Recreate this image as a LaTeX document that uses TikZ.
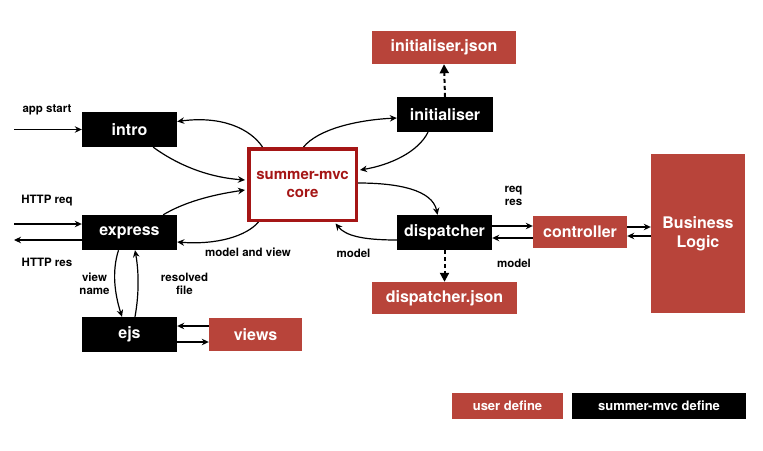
\documentclass[tikz,border=0pt]{standalone}
\usepackage{fontspec}
\setmainfont{TeX Gyre Heros}
\usetikzlibrary{arrows.meta,calc}
\definecolor{userred}{RGB}{184,68,58}
\definecolor{corered}{RGB}{165,22,22}
\begin{document}
\begin{tikzpicture}[x=1pt,y=-1pt,
  blk/.style={fill=black,text=white,inner sep=0pt,font=\fontsize{16}{18}\selectfont\bfseries},
  usr/.style={fill=userred,text=white,inner sep=0pt,font=\fontsize{16}{18}\selectfont\bfseries},
  lbl/.style={inner sep=0pt,font=\fontsize{11.5}{13}\selectfont\bfseries,align=center},
  arr/.style={line width=1.2pt,-{Stealth[length=7pt,width=6.5pt]}},
  dsh/.style={line width=2pt,dash pattern=on 4pt off 3pt,-{Triangle[length=9pt,width=9pt]}}]
\useasboundingbox[fill=white] (0,0) rectangle (763,450);

% nodes
\node[blk,minimum width=95pt,minimum height=35pt] (intro) at (129.5,129.5) {intro};
\node[blk,minimum width=95pt,minimum height=35pt] (express) at (129.5,232.5) {express};
\node[blk,minimum width=95pt,minimum height=35pt] (ejs) at (129.5,334.5) {ejs};
\node[usr,minimum width=93pt,minimum height=33pt] (views) at (255.5,334.5) {views};
\node[draw=corered,line width=3.5pt,fill=white,text=corered,minimum width=107.5pt,minimum height=71.5pt,inner sep=0pt,align=center,font=\fontsize{15}{17.5}\selectfont\bfseries] (core) at (302.5,184.5) {summer-mvc\\core};
\node[usr,minimum width=144pt,minimum height=33pt] (ijson) at (444,47.5) {initialiser.json};
\node[blk,minimum width=96pt,minimum height=35pt] (init) at (445,114.5) {initialiser};
\node[blk,minimum width=95pt,minimum height=35pt] (disp) at (444.5,232.5) {dispatcher};
\node[usr,minimum width=145pt,minimum height=32pt] (djson) at (444.5,298) {dispatcher.json};
\node[usr,minimum width=94pt,minimum height=32pt] (ctrl) at (580,232) {controller};
\node[usr,minimum width=94pt,minimum height=159pt,align=center,font=\fontsize{16}{19}\selectfont\bfseries] (bl) at (698,233.5) {\raisebox{-2.5pt}{Business}\\\raisebox{-2.5pt}{Logic}};
\node[usr,minimum width=111pt,minimum height=26pt,font=\fontsize{13}{15}\selectfont\bfseries] (leguser) at (507.5,406) {user define};
\node[blk,minimum width=174pt,minimum height=26pt,font=\fontsize{13}{15}\selectfont\bfseries] (legmvc) at (659,406) {summer-mvc define};

% labels
\node[lbl] (lapp) at (47,110) {app start};
\node[lbl] (lreq) at (47,201) {HTTP req};
\node[lbl] (lres) at (47,262) {HTTP res};
\node[lbl] (lvn) at (94.5,283.5) {view\\name};
\node[lbl] (lrf) at (184.5,283.5) {resolved\\file};
\node[lbl] (lmv) at (248,252) {model and view};
\node[lbl] (lm1) at (353.5,253) {model};
\node[lbl] (lrr) at (513.5,196) {req\\res};
\node[lbl] (lm2) at (514,263) {model};

% free ends
\coordinate (appin) at (14,129.5);
\coordinate (reqin) at (14,224);
\coordinate (resout) at (14,240);

% connectors
\draw[arr] (appin) -- (intro.west);
\draw[arr] (reqin) -- ([yshift=8.5pt]express.west);
\draw[arr] ([yshift=-7.5pt]express.west) -- (resout);

\draw[arr] ([xshift=-40pt]core.north) .. controls +(-12,-18) and +(45,-6) .. ([yshift=8pt]intro.east);
\draw[arr] ([xshift=-24pt]intro.south east) .. controls +(22,16) and +(-40,-3) .. ([yshift=4.5pt,xshift=-2pt]core.west);
\draw[arr] ([xshift=-14pt]express.north east) .. controls +(20,-12) and +(-35,5) .. ([yshift=-5.5pt,xshift=-2pt]core.west);
\draw[arr] ([xshift=-44pt]core.south) .. controls +(-12,14) and +(40,3) .. ([yshift=-9.5pt]express.east);

\draw[arr] ([xshift=1pt]core.north) .. controls +(15,-18) and +(-40,2) .. ([yshift=-3.5pt]init.west);
\draw[arr] ([xshift=-17pt]init.south) .. controls +(-10,20) and +(30,-5) .. ([yshift=14.5pt,xshift=2pt]core.east);
\draw[arr] ([yshift=1.5pt]core.east) .. controls +(40,0) and +(-5,-25) .. ([xshift=-7pt]disp.north);
\draw[arr] ([yshift=-7.5pt]disp.west) .. controls +(-35,0) and +(10,12) .. ([xshift=33pt,yshift=-1.5pt]core.south);

\draw[arr] ([xshift=-11pt]express.south) .. controls +(-7,22) and +(-7,-22) .. ([xshift=-7.5pt]ejs.north);
\draw[arr] ([xshift=5.5pt]ejs.north) .. controls +(4,-22) and +(4,22) .. ([xshift=5.5pt]express.south);
\draw[arr] ([yshift=8.5pt]views.west) -- ([yshift=8.5pt]ejs.east);
\draw[arr] ([yshift=-7.5pt]ejs.east) -- ([yshift=-7.5pt]views.west);

\draw[arr] ([yshift=6.5pt]disp.east) -- ([yshift=6pt]ctrl.west);
\draw[arr] ([yshift=-6pt]ctrl.west) -- ([yshift=-5.5pt]disp.east);
\draw[arr] ([yshift=5pt]ctrl.east) -- ([yshift=6.5pt]bl.west);
\draw[arr] ([yshift=-2.5pt]bl.west) -- ([yshift=-4pt]ctrl.east);

\draw[dsh] (init.north) -- (ijson.south);
\draw[dsh] (disp.south) -- (djson.north);
\end{tikzpicture}
\end{document}
